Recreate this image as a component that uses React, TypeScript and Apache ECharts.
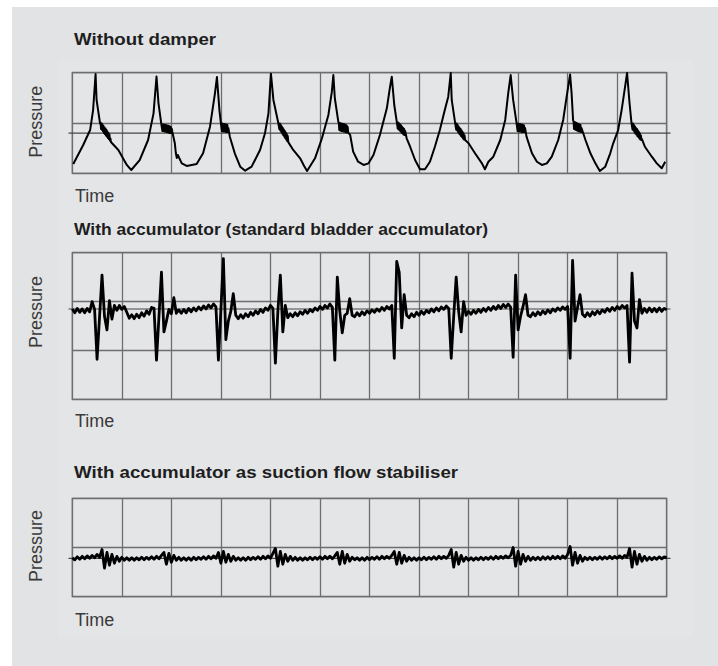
import React, { useEffect, useRef } from "react";
import * as echarts from "echarts";

// ---------- data ----------
const TIME_MAX = 12; // grid divisions along time
const SAMPLE_STEP = 0.05; // time step of the sampled traces (panels 2 and 3)
const PANEL_TITLES = [
  "Without damper",
  "With accumulator (standard bladder accumulator)",
  "With accumulator as suction flow stabiliser",
];
const Y_LABEL = "Pressure";
const X_LABEL = "Time";
const Y_MAX = [10, 15, 10];
const ZERO_LEVELS = [4.0, 9.24, 3.9];

// Panel 1: [time, pressure]
const noDamper: number[][] = [
  [0.02,0.92],[0.22,2.81],[0.36,4.30],[0.42,6.29],[0.47,9.87],[0.49,7.29],[0.56,4.97],
  [0.57,5.05],[0.58,4.40],[0.59,4.95],[0.60,4.30],[0.61,4.85],[0.62,4.15],[0.63,4.70],[0.64,4.00],[0.65,4.55],[0.66,3.90],[0.67,4.45],[0.68,3.75],[0.69,4.30],[0.70,3.65],[0.71,4.15],[0.72,3.50],[0.73,4.00],[0.74,3.40],[0.75,3.85],[0.76,3.25],[0.77,3.45],
  [0.78,3.11],[0.93,2.32],[1.10,0.83],[1.19,0.33],[1.36,1.32],[1.53,3.31],[1.64,5.96],[1.70,9.62],[1.74,6.96],[1.80,4.80],
  [1.81,4.85],[1.82,4.20],[1.83,4.85],[1.84,4.20],[1.85,4.85],[1.86,4.15],[1.87,4.80],[1.88,4.15],[1.89,4.80],[1.90,4.10],[1.91,4.75],[1.92,4.10],[1.93,4.75],[1.94,4.05],[1.95,4.70],[1.96,4.00],[1.97,4.65],[1.98,4.00],[1.99,4.60],[2.00,4.00],[2.01,4.40],
  [2.02,4.11],[2.07,2.98],[2.09,2.02],[2.11,1.52],[2.13,1.82],[2.21,0.99],[2.31,0.73],[2.51,0.92],[2.64,1.99],[2.78,4.63],[2.88,7.95],[2.92,9.57],[2.97,6.29],[3.00,4.97],
  [3.01,4.95],[3.02,4.20],[3.03,4.95],[3.04,4.15],[3.05,4.90],[3.06,4.15],[3.07,4.90],[3.08,4.15],[3.09,4.85],[3.10,4.10],[3.11,4.85],[3.12,4.10],[3.13,4.80],[3.14,4.10],[3.15,4.50],
  [3.18,3.64],[3.28,1.99],[3.39,0.66],[3.49,0.26],[3.62,0.66],[3.79,2.32],[3.89,3.98],[3.96,5.96],[4.01,9.90],[4.06,7.29],[4.16,4.97],
  [4.17,5.00],[4.18,4.40],[4.19,4.95],[4.20,4.25],[4.21,4.80],[4.22,4.10],[4.23,4.65],[4.24,3.95],[4.25,4.50],[4.26,3.80],[4.27,4.35],[4.28,3.65],[4.29,4.20],[4.30,3.50],[4.31,4.05],[4.32,3.35],[4.33,3.90],[4.34,3.20],[4.35,3.70],[4.36,3.10],
  [4.46,2.32],[4.60,1.49],[4.68,0.73],[4.74,0.23],[4.90,1.49],[5.04,3.48],[5.17,5.80],[5.24,8.11],[5.27,9.77],[5.30,7.46],[5.37,5.13],
  [5.38,5.00],[5.39,4.30],[5.40,5.00],[5.41,4.25],[5.42,4.95],[5.43,4.20],[5.44,4.95],[5.45,4.20],[5.46,4.90],[5.47,4.15],[5.48,4.90],[5.49,4.15],[5.50,4.85],[5.51,4.10],[5.52,4.80],[5.53,4.05],[5.54,4.75],[5.55,4.05],[5.56,4.60],[5.57,4.05],
  [5.61,3.81],[5.67,2.15],[5.77,1.15],[5.88,0.83],[5.98,0.99],[6.08,1.82],[6.21,3.81],[6.35,6.46],[6.41,8.45],[6.45,9.60],[6.50,6.79],[6.55,5.13],
  [6.56,5.10],[6.57,4.45],[6.58,5.05],[6.59,4.35],[6.60,4.95],[6.61,4.25],[6.62,4.85],[6.63,4.15],[6.64,4.75],[6.65,4.05],[6.66,4.60],[6.67,3.95],[6.68,4.50],[6.69,3.85],[6.70,4.40],[6.71,3.80],[6.72,4.20],
  [6.75,3.48],[6.82,2.64],[6.92,1.32],[7.02,0.40],[7.12,0.40],[7.22,1.15],[7.32,2.64],[7.42,4.30],[7.52,6.29],[7.59,7.62],[7.64,9.97],[7.66,7.29],[7.73,4.97],
  [7.74,5.00],[7.75,4.35],[7.76,4.95],[7.77,4.25],[7.78,4.80],[7.79,4.10],[7.80,4.65],[7.81,3.95],[7.82,4.50],[7.83,3.85],[7.84,4.40],[7.85,3.70],[7.86,4.25],[7.87,3.60],[7.88,4.10],[7.89,3.45],[7.90,3.95],[7.91,3.35],[7.92,3.75],[7.93,3.30],
  [8.00,2.98],[8.13,1.99],[8.27,0.99],[8.33,0.40],[8.40,1.15],[8.50,1.65],[8.64,3.31],[8.74,5.30],[8.80,7.95],[8.85,9.77],[8.90,7.29],[8.97,4.97],
  [8.98,4.95],[8.99,4.20],[9.00,4.95],[9.01,4.20],[9.02,4.90],[9.03,4.15],[9.04,4.90],[9.05,4.15],[9.06,4.85],[9.07,4.10],[9.08,4.85],[9.09,4.10],[9.10,4.80],[9.11,4.10],[9.12,4.75],[9.13,4.10],[9.14,4.50],
  [9.17,3.64],[9.28,1.99],[9.38,1.15],[9.48,0.83],[9.58,0.99],[9.68,1.65],[9.81,3.31],[9.91,5.30],[9.98,7.62],[10.05,9.82],[10.08,7.95],[10.11,5.30],
  [10.12,5.10],[10.13,4.40],[10.14,5.10],[10.15,4.35],[10.16,5.05],[10.17,4.30],[10.18,5.00],[10.19,4.25],[10.20,4.95],[10.21,4.20],[10.22,4.90],[10.23,4.15],[10.24,4.85],[10.25,4.15],[10.26,4.80],[10.27,4.10],[10.28,4.50],
  [10.36,3.31],[10.46,1.99],[10.56,0.99],[10.65,0.23],[10.76,0.66],[10.86,1.99],[10.92,2.98],[11.02,4.30],[11.09,6.29],[11.16,8.61],[11.20,9.97],[11.25,6.96],[11.29,4.97],
  [11.30,5.00],[11.31,4.35],[11.32,4.95],[11.33,4.25],[11.34,4.80],[11.35,4.10],[11.36,4.65],[11.37,3.95],[11.38,4.50],[11.39,3.85],[11.40,4.40],[11.41,3.70],[11.42,4.25],[11.43,3.60],[11.44,4.10],[11.45,3.45],[11.46,3.95],[11.47,3.35],[11.48,3.75],[11.49,3.30],[11.50,3.40],
  [11.56,2.64],[11.70,1.65],[11.80,0.99],[11.90,0.50],[11.97,1.15],
];

// Panel 2: pressure samples every SAMPLE_STEP
const bladder: number[] = [
  9.25,8.85,9.3,8.9,9.25,8.85,9.3,8.95,10.0,9.2,
  4.1,8.4,12.7,8.5,7.1,10.1,8.2,9.6,9.1,9.6,
  9.2,9.5,8.9,8.3,8.65,8.25,8.7,8.35,8.85,8.5,
  9.05,8.7,9.4,9.3,4.0,8.5,13.0,6.9,8.0,9.2,
  8.75,10.4,8.8,9.15,8.8,9.2,8.85,9.3,8.95,9.35,
  9.05,9.45,9.15,9.55,9.25,9.65,9.35,9.75,9.45,4.0,
  9.2,14.4,6.1,8.0,9.0,10.8,8.6,8.25,8.65,8.3,
  8.75,8.45,8.9,8.6,9.05,8.75,9.2,8.9,9.35,9.1,
  9.6,9.3,3.7,9.0,12.7,6.9,9.6,8.35,8.75,8.45,
  8.85,8.55,8.95,8.7,9.1,8.8,9.2,8.95,9.35,9.1,
  9.5,9.2,9.6,9.35,9.75,9.4,4.0,12.5,9.0,6.8,
  8.6,8.8,10.3,8.6,8.45,8.85,8.55,8.95,8.65,9.05,
  8.8,9.15,8.9,9.25,9.0,9.4,9.1,9.5,9.25,9.6,
  4.2,14.1,13.0,7.3,10.7,8.6,8.35,8.75,8.45,8.9,
  8.6,9.0,8.7,9.1,8.85,9.25,8.95,9.35,9.05,9.45,
  9.2,9.55,9.3,4.2,8.5,12.5,9.0,6.9,10.0,8.6,
  9.0,8.7,9.1,8.8,9.2,8.9,9.3,9.0,9.4,9.1,
  9.5,9.2,9.6,9.3,9.7,9.4,9.75,9.4,4.3,12.7,
  7.1,8.5,9.5,10.7,8.6,8.45,8.85,8.55,8.95,8.65,
  9.05,8.75,9.15,8.85,9.25,9.0,9.35,9.1,9.45,9.2,
  9.5,4.2,14.2,8.0,9.4,10.7,8.7,8.45,8.85,8.5,
  8.95,8.65,9.05,8.75,9.15,8.9,9.3,9.0,9.4,9.1,
  9.5,9.25,9.6,9.35,9.6,3.8,12.9,8.0,7.3,10.2,
  8.8,9.3,8.9,9.35,8.95,9.3,8.95,9.35,9.0,9.3,
  9.15,
];

// Panel 3: pressure samples every SAMPLE_STEP
const stabiliser: number[] = [
  3.95,3.75,4.05,3.8,4.1,3.85,4.15,3.9,4.2,3.95,
  4.3,4.0,4.8,2.9,4.5,3.2,4.3,3.4,4.1,3.6,
  4.0,3.7,3.95,3.7,3.95,3.7,3.95,3.75,4.0,3.75,
  4.0,3.8,4.05,3.8,4.1,3.85,4.2,4.5,3.3,4.4,
  3.5,4.2,3.7,4.0,3.7,3.95,3.7,3.95,3.7,4.0,
  3.75,4.0,3.8,4.05,3.8,4.1,3.85,4.15,3.9,4.5,
  3.4,4.6,3.5,4.3,3.6,4.1,3.7,3.95,3.7,3.95,
  3.7,4.0,3.75,4.0,3.8,4.05,3.8,4.1,3.85,4.15,
  3.9,4.4,4.9,3.1,4.6,3.3,4.3,3.6,4.1,3.7,
  4.0,3.7,3.95,3.7,3.95,3.75,4.0,3.75,4.0,3.8,
  4.05,3.8,4.1,3.85,4.1,3.85,4.15,4.5,3.3,4.6,
  3.4,4.3,3.6,4.0,3.75,3.95,3.7,3.95,3.7,4.0,
  3.75,4.0,3.8,4.05,3.8,4.1,3.85,4.1,3.9,4.2,
  4.6,3.3,4.5,3.4,4.2,3.6,4.0,3.7,3.95,3.7,
  3.95,3.75,4.0,3.75,4.0,3.8,4.05,3.8,4.1,3.85,
  4.1,3.9,4.2,4.8,3.0,4.5,3.3,4.2,3.6,4.0,
  3.7,3.95,3.7,3.95,3.75,4.0,3.75,4.0,3.8,4.05,
  3.8,4.1,3.85,4.1,3.9,4.15,3.95,4.2,5.0,3.1,
  4.6,3.3,4.3,3.6,4.1,3.7,4.0,3.75,4.0,3.75,
  4.05,3.8,4.05,3.8,4.1,3.85,4.1,3.85,4.15,3.9,
  4.3,5.1,3.2,4.5,3.4,4.2,3.6,4.0,3.75,4.0,
  3.75,4.0,3.8,4.05,3.8,4.05,3.85,4.1,3.85,4.1,
  3.9,4.15,3.9,4.2,4.0,4.9,3.0,4.6,3.3,4.3,
  3.6,4.1,3.7,4.0,3.75,4.0,3.8,4.05,3.85,4.05,
  3.95,
];

// ---------- layout / style ----------
const GRIDS = [
  { left: 72.3, top: 72.7, width: 594.4, height: 100.6 },
  { left: 72.3, top: 252.7, width: 594.4, height: 146.6 },
  { left: 72.3, top: 498.3, width: 594.4, height: 98.4 },
];
const TITLE_Y = [38.8, 229, 472.4];
const TITLE_STRETCH = [1.1, 1.03, 1.1];
const TIME_Y = [196.4, 421.4, 619.7];
const PRESSURE_Y = [121.7, 312, 546];
const LINE_WIDTHS = [2.0, 2.8, 2.8];
const GRID_COLOR = "#6e6e6e";
const ZERO_COLOR = "#474747";

function sampled(values: number[]) {
  return values.map((v, i) => [+(i * SAMPLE_STEP).toFixed(3), v]);
}

export default function App() {
  const ref = useRef<HTMLDivElement>(null);

  useEffect(() => {
    document.body.style.margin = "0";
    if (!ref.current) return;
    const chart = echarts.init(ref.current, undefined, { renderer: "svg" });

    const traces = [noDamper, sampled(bladder), sampled(stabiliser)];

    const baseGraphics: any[] = [
      { type: "rect", z: -10, silent: true, shape: { x: 0, y: 0, width: 718, height: 666 }, style: { fill: "#ffffff" } },
      { type: "rect", z: -9, silent: true, shape: { x: 12, y: 7, width: 706, height: 659 }, style: { fill: "#e2e3e5" } },
      { type: "rect", z: -8, silent: true, shape: { x: 58, y: 60, width: 635, height: 577 }, style: { fill: "#e4e5e7" } },
    ];
    PANEL_TITLES.forEach((t, k) => {
      baseGraphics.push({
        type: "text", x: 74, y: TITLE_Y[k], scaleX: TITLE_STRETCH[k], z: 5,
        style: { text: t, fill: "#1e1e1e", font: "bold 17px 'Liberation Sans', Arial, sans-serif", align: "left", verticalAlign: "middle" },
      });
      baseGraphics.push({
        type: "text", x: 75, y: TIME_Y[k], z: 5,
        style: { text: X_LABEL, fill: "#3a3a3a", font: "18px 'Liberation Sans', Arial, sans-serif", align: "left", verticalAlign: "middle" },
      });
      baseGraphics.push({
        type: "text", x: 35.5, y: PRESSURE_Y[k], rotation: Math.PI / 2, z: 5,
        style: { text: Y_LABEL, fill: "#3a3a3a", font: "18px 'Liberation Sans', Arial, sans-serif", align: "center", verticalAlign: "middle" },
      });
    });

    const option: any = {
      animation: false,
      backgroundColor: "transparent",
      grid: GRIDS.map((g) => ({ ...g, show: true, borderColor: GRID_COLOR, borderWidth: 1.3, backgroundColor: "transparent", containLabel: false })),
      xAxis: GRIDS.map((_, k) => ({
        type: "value", gridIndex: k, min: 0, max: TIME_MAX, interval: 1,
        axisLine: { show: false }, axisTick: { show: false }, axisLabel: { show: false },
        splitLine: { show: true, lineStyle: { color: GRID_COLOR, width: 1.3 } },
      })),
      yAxis: GRIDS.map((_, k) => ({
        type: "value", gridIndex: k, min: 0, max: Y_MAX[k], interval: 5,
        axisLine: { show: false }, axisTick: { show: false }, axisLabel: { show: false },
        splitLine: { show: true, lineStyle: { color: GRID_COLOR, width: 1.3 } },
      })),
      series: traces.map((d, k) => ({
        type: "line", xAxisIndex: k, yAxisIndex: k, data: d, showSymbol: false, symbol: "none",
        clip: false, z: 4,
        lineStyle: { color: "#000000", width: LINE_WIDTHS[k], join: "round" },
      })),
      graphic: baseGraphics,
    };
    chart.setOption(option);

    const zeroLines = GRIDS.map((_, k) => {
      const a = chart.convertToPixel({ xAxisIndex: k, yAxisIndex: k }, [0, ZERO_LEVELS[k]]) as number[];
      const b = chart.convertToPixel({ xAxisIndex: k, yAxisIndex: k }, [TIME_MAX, ZERO_LEVELS[k]]) as number[];
      return {
        type: "line", z: 3, silent: true,
        shape: { x1: a[0] - 3.8, y1: a[1], x2: b[0] + 3.8, y2: b[1] },
        style: { stroke: ZERO_COLOR, lineWidth: 1.2 },
      };
    });
    chart.setOption({ graphic: [...baseGraphics, ...zeroLines] }, { replaceMerge: ["graphic"] });

    return () => chart.dispose();
  }, []);

  return <div ref={ref} style={{ width: 718, height: 666 }} />;
}
